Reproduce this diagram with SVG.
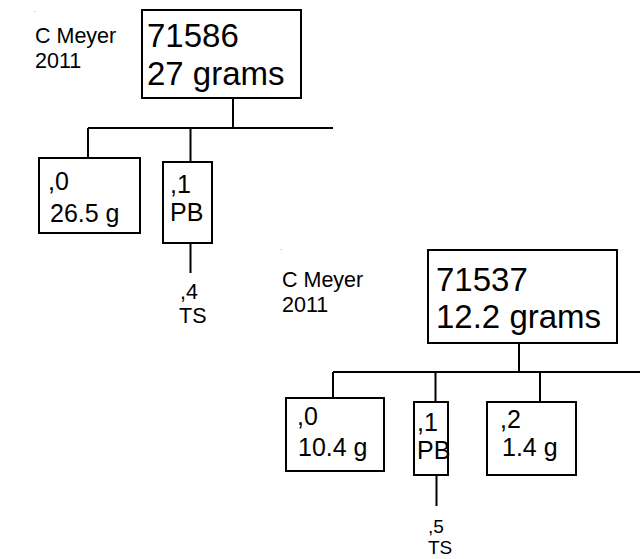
<svg xmlns="http://www.w3.org/2000/svg" width="640" height="559" viewBox="0 0 640 559">
<style>
.box{fill:#fff;stroke:#000;stroke-width:2}
.ln{stroke:#000;stroke-width:2;fill:none}
text{font-family:"Liberation Sans",Arial,sans-serif;fill:#000}
.big{font-size:33px}
.mid{font-size:25px}
.sm{font-size:21.5px}
.xs{font-size:19px}
.dot{font-size:8px;fill:#888}
</style>
<rect width="640" height="559" fill="#fff"/>
<g id="connectors">
<line class="ln" x1="233" y1="98" x2="233" y2="128"/>
<line class="ln" x1="88" y1="128" x2="333" y2="128"/>
<line class="ln" x1="88" y1="128" x2="88" y2="158"/>
<line class="ln" x1="190.5" y1="128" x2="190.5" y2="162"/>
<line class="ln" x1="190.5" y1="243" x2="190.5" y2="273"/>
<line class="ln" x1="519" y1="343" x2="519" y2="372"/>
<line class="ln" x1="333" y1="372" x2="640" y2="372"/>
<line class="ln" x1="333" y1="372" x2="333" y2="398"/>
<line class="ln" x1="435.5" y1="372" x2="435.5" y2="402"/>
<line class="ln" x1="540" y1="372" x2="540" y2="402"/>
<line class="ln" x1="436.5" y1="475" x2="436.5" y2="506"/>
</g>
<g id="note1">
<text class="dot" x="34" y="12">.</text>
<text class="sm" x="35" y="43">C Meyer</text>
<text class="sm" x="35" y="68">2011</text>
</g>
<g id="n71586">
<rect class="box" x="142" y="10" width="159" height="88"/>
<text class="big" x="147" y="47">71586</text>
<text class="big" x="147" y="85">27 grams</text>
</g>
<g id="n71586-0">
<rect class="box" x="39" y="158" width="101" height="75"/>
<text class="mid" x="48" y="190">,0</text>
<text class="mid" x="50" y="222">26.5 g</text>
</g>
<g id="n71586-1">
<rect class="box" x="163" y="162" width="49" height="81"/>
<text class="mid" x="170" y="193">,1</text>
<text class="mid" x="170" y="221">PB</text>
</g>
<g id="n71586-4">
<text class="sm" x="180" y="299">,4</text>
<text class="sm" x="179" y="323">TS</text>
</g>
<g id="note2">
<text class="dot" x="280" y="250">.</text>
<text class="sm" x="282" y="287">C Meyer</text>
<text class="sm" x="282" y="312">2011</text>
</g>
<g id="n71537">
<rect class="box" x="428" y="250" width="189" height="93"/>
<text class="big" x="436" y="291">71537</text>
<text class="big" x="436" y="328">12.2 grams</text>
</g>
<g id="n71537-0">
<rect class="box" x="286" y="398" width="98" height="73"/>
<text class="mid" x="297" y="425">,0</text>
<text class="mid" x="298" y="456">10.4 g</text>
</g>
<g id="n71537-1">
<rect class="box" x="414" y="402" width="34" height="73"/>
<text class="mid" x="417" y="431">,1</text>
<text class="mid" x="417" y="459">PB</text>
</g>
<g id="n71537-2">
<rect class="box" x="487" y="402" width="89" height="73"/>
<text class="mid" x="500" y="428">,2</text>
<text class="mid" x="502" y="456">1.4 g</text>
</g>
<g id="n71537-5">
<text class="xs" x="428" y="533">,5</text>
<text class="xs" x="428" y="554">TS</text>
</g>
</svg>
